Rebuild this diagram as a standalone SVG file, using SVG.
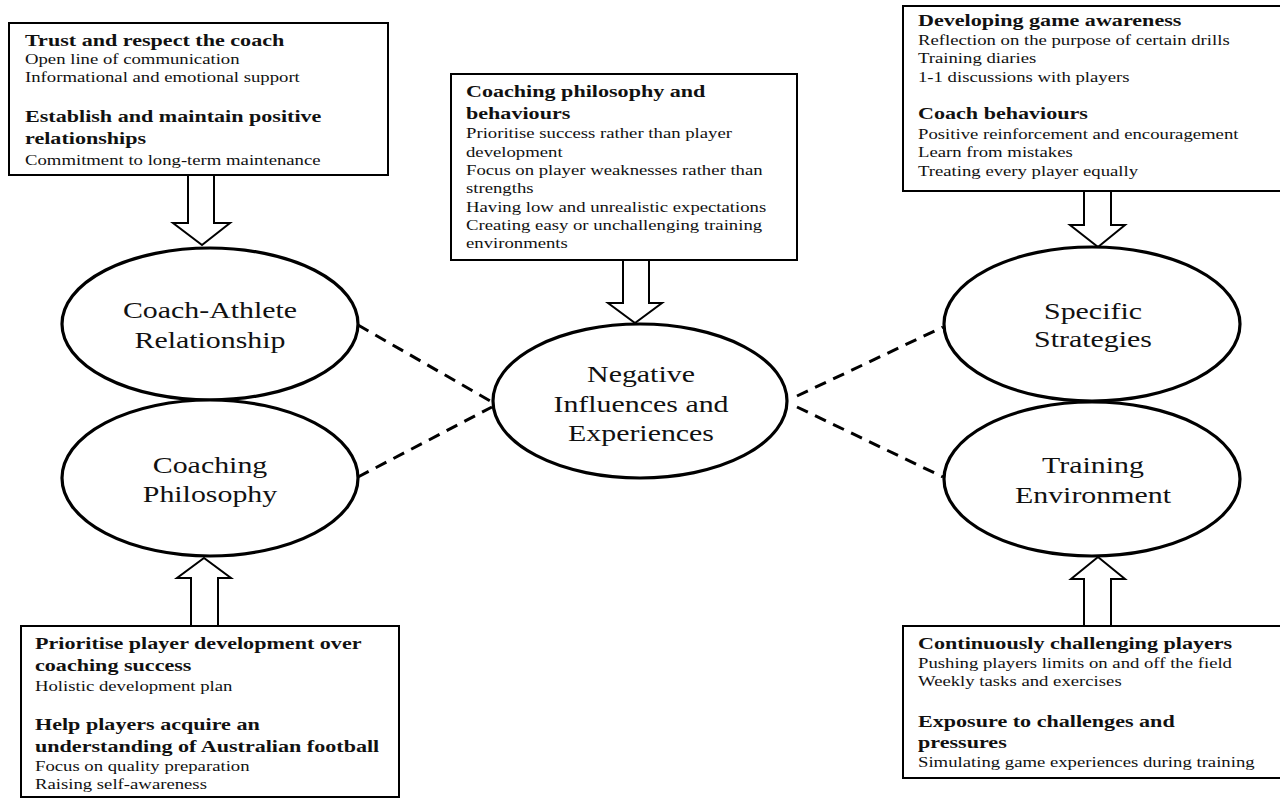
<svg xmlns="http://www.w3.org/2000/svg" width="1280" height="800" viewBox="0 0 1280 800">
<style>
.box{fill:#fff;stroke:#000;stroke-width:2}
.ell{fill:#fff;stroke:#000;stroke-width:3.2}
.arr{fill:#fff;stroke:#000;stroke-width:2;stroke-linejoin:miter}
.dash{fill:none;stroke:#000;stroke-width:3;stroke-dasharray:12 8}
text{font-family:"Liberation Serif","Times New Roman",serif;fill:#111}
.h{font-size:17px;font-weight:bold}
.t{font-size:14.4px}
.e{font-size:23px;text-anchor:middle}
</style>
<rect width="1280" height="800" fill="#fff"/>
<g id="connectors">
<polygon class="arr" points="188,175 188,223 173,223 202,245 230,223 214,223 214,175"/>
<polygon class="arr" points="623,260 623,303 608,303 635,323 662,303 649,303 649,260"/>
<polygon class="arr" points="1084,191 1084,225 1070,225 1098,247 1125,225 1111,225 1111,191"/>
<polygon class="arr" points="191,626 191,578 177,578 204,558 231,578 218,578 218,626"/>
<polygon class="arr" points="1084,626 1084,579 1071,579 1098,557 1125,579 1111,579 1111,626"/>
<line class="dash" x1="358" y1="325" x2="492" y2="402"/>
<line class="dash" x1="358" y1="477" x2="492" y2="407"/>
<line class="dash" x1="797" y1="396" x2="943" y2="327"/>
<line class="dash" x1="797" y1="407" x2="943" y2="477"/>
</g>
<g id="box-coach-athlete">
<rect class="box" x="9" y="23" width="379" height="152"/>
<g transform="translate(25,0) scale(1.3,1)">
<text class="h" x="0" y="46">Trust and respect the coach</text>
<text class="t" x="0" y="64">Open line of communication</text>
<text class="t" x="0" y="82">Informational and emotional support</text>
<text class="h" x="0" y="122">Establish and maintain positive</text>
<text class="h" x="0" y="144">relationships</text>
<text class="t" x="0" y="165">Commitment to long-term maintenance</text>
</g>
</g>
<g id="box-negative">
<rect class="box" x="451" y="74" width="346" height="186"/>
<g transform="translate(466,0) scale(1.3,1)">
<text class="h" x="0" y="97">Coaching philosophy and</text>
<text class="h" x="0" y="119">behaviours</text>
<text class="t" x="0" y="138">Prioritise success rather than player</text>
<text class="t" x="0" y="157">development</text>
<text class="t" x="0" y="175">Focus on player weaknesses rather than</text>
<text class="t" x="0" y="193">strengths</text>
<text class="t" x="0" y="212">Having low and unrealistic expectations</text>
<text class="t" x="0" y="230">Creating easy or unchallenging training</text>
<text class="t" x="0" y="248">environments</text>
</g>
</g>
<g id="box-strategies">
<rect class="box" x="903" y="6" width="390" height="185"/>
<g transform="translate(918,0) scale(1.3,1)">
<text class="h" x="0" y="26">Developing game awareness</text>
<text class="t" x="0" y="45">Reflection on the purpose of certain drills</text>
<text class="t" x="0" y="63">Training diaries</text>
<text class="t" x="0" y="82">1-1 discussions with players</text>
<text class="h" x="0" y="119">Coach behaviours</text>
<text class="t" x="0" y="139">Positive reinforcement and encouragement</text>
<text class="t" x="0" y="157">Learn from mistakes</text>
<text class="t" x="0" y="176">Treating every player equally</text>
</g>
</g>
<g id="box-philosophy">
<rect class="box" x="21" y="626" width="378" height="171"/>
<g transform="translate(35,0) scale(1.3,1)">
<text class="h" x="0" y="649">Prioritise player development over</text>
<text class="h" x="0" y="671">coaching success</text>
<text class="t" x="0" y="691">Holistic development plan</text>
<text class="h" x="0" y="730">Help players acquire an</text>
<text class="h" x="0" y="752">understanding of Australian football</text>
<text class="t" x="0" y="771">Focus on quality preparation</text>
<text class="t" x="0" y="789">Raising self-awareness</text>
</g>
</g>
<g id="box-environment">
<rect class="box" x="903" y="626" width="390" height="152"/>
<g transform="translate(918,0) scale(1.3,1)">
<text class="h" x="0" y="649">Continuously challenging players</text>
<text class="t" x="0" y="668">Pushing players limits on and off the field</text>
<text class="t" x="0" y="686">Weekly tasks and exercises</text>
<text class="h" x="0" y="727">Exposure to challenges and</text>
<text class="h" x="0" y="748">pressures</text>
<text class="t" x="0" y="767">Simulating game experiences during training</text>
</g>
</g>
<g id="node-coach-athlete">
<ellipse class="ell" cx="210" cy="324" rx="148" ry="76"/>
<g transform="translate(210,0) scale(1.3,1)">
<text class="e" x="0" y="318">Coach-Athlete</text>
<text class="e" x="0" y="348">Relationship</text>
</g>
</g>
<g id="node-coaching-philosophy">
<ellipse class="ell" cx="210" cy="478" rx="148" ry="78"/>
<g transform="translate(210,0) scale(1.3,1)">
<text class="e" x="0" y="473">Coaching</text>
<text class="e" x="0" y="502">Philosophy</text>
</g>
</g>
<g id="node-negative">
<ellipse class="ell" cx="640" cy="401" rx="147" ry="77"/>
<g transform="translate(641,0) scale(1.3,1)">
<text class="e" x="0" y="382">Negative</text>
<text class="e" x="0" y="412">Influences and</text>
<text class="e" x="0" y="441">Experiences</text>
</g>
</g>
<g id="node-specific-strategies">
<ellipse class="ell" cx="1092" cy="324" rx="148" ry="77"/>
<g transform="translate(1093,0) scale(1.3,1)">
<text class="e" x="0" y="319">Specific</text>
<text class="e" x="0" y="347">Strategies</text>
</g>
</g>
<g id="node-training-environment">
<ellipse class="ell" cx="1092" cy="479" rx="148" ry="77"/>
<g transform="translate(1093,0) scale(1.3,1)">
<text class="e" x="0" y="473">Training</text>
<text class="e" x="0" y="503">Environment</text>
</g>
</g>
</svg>
